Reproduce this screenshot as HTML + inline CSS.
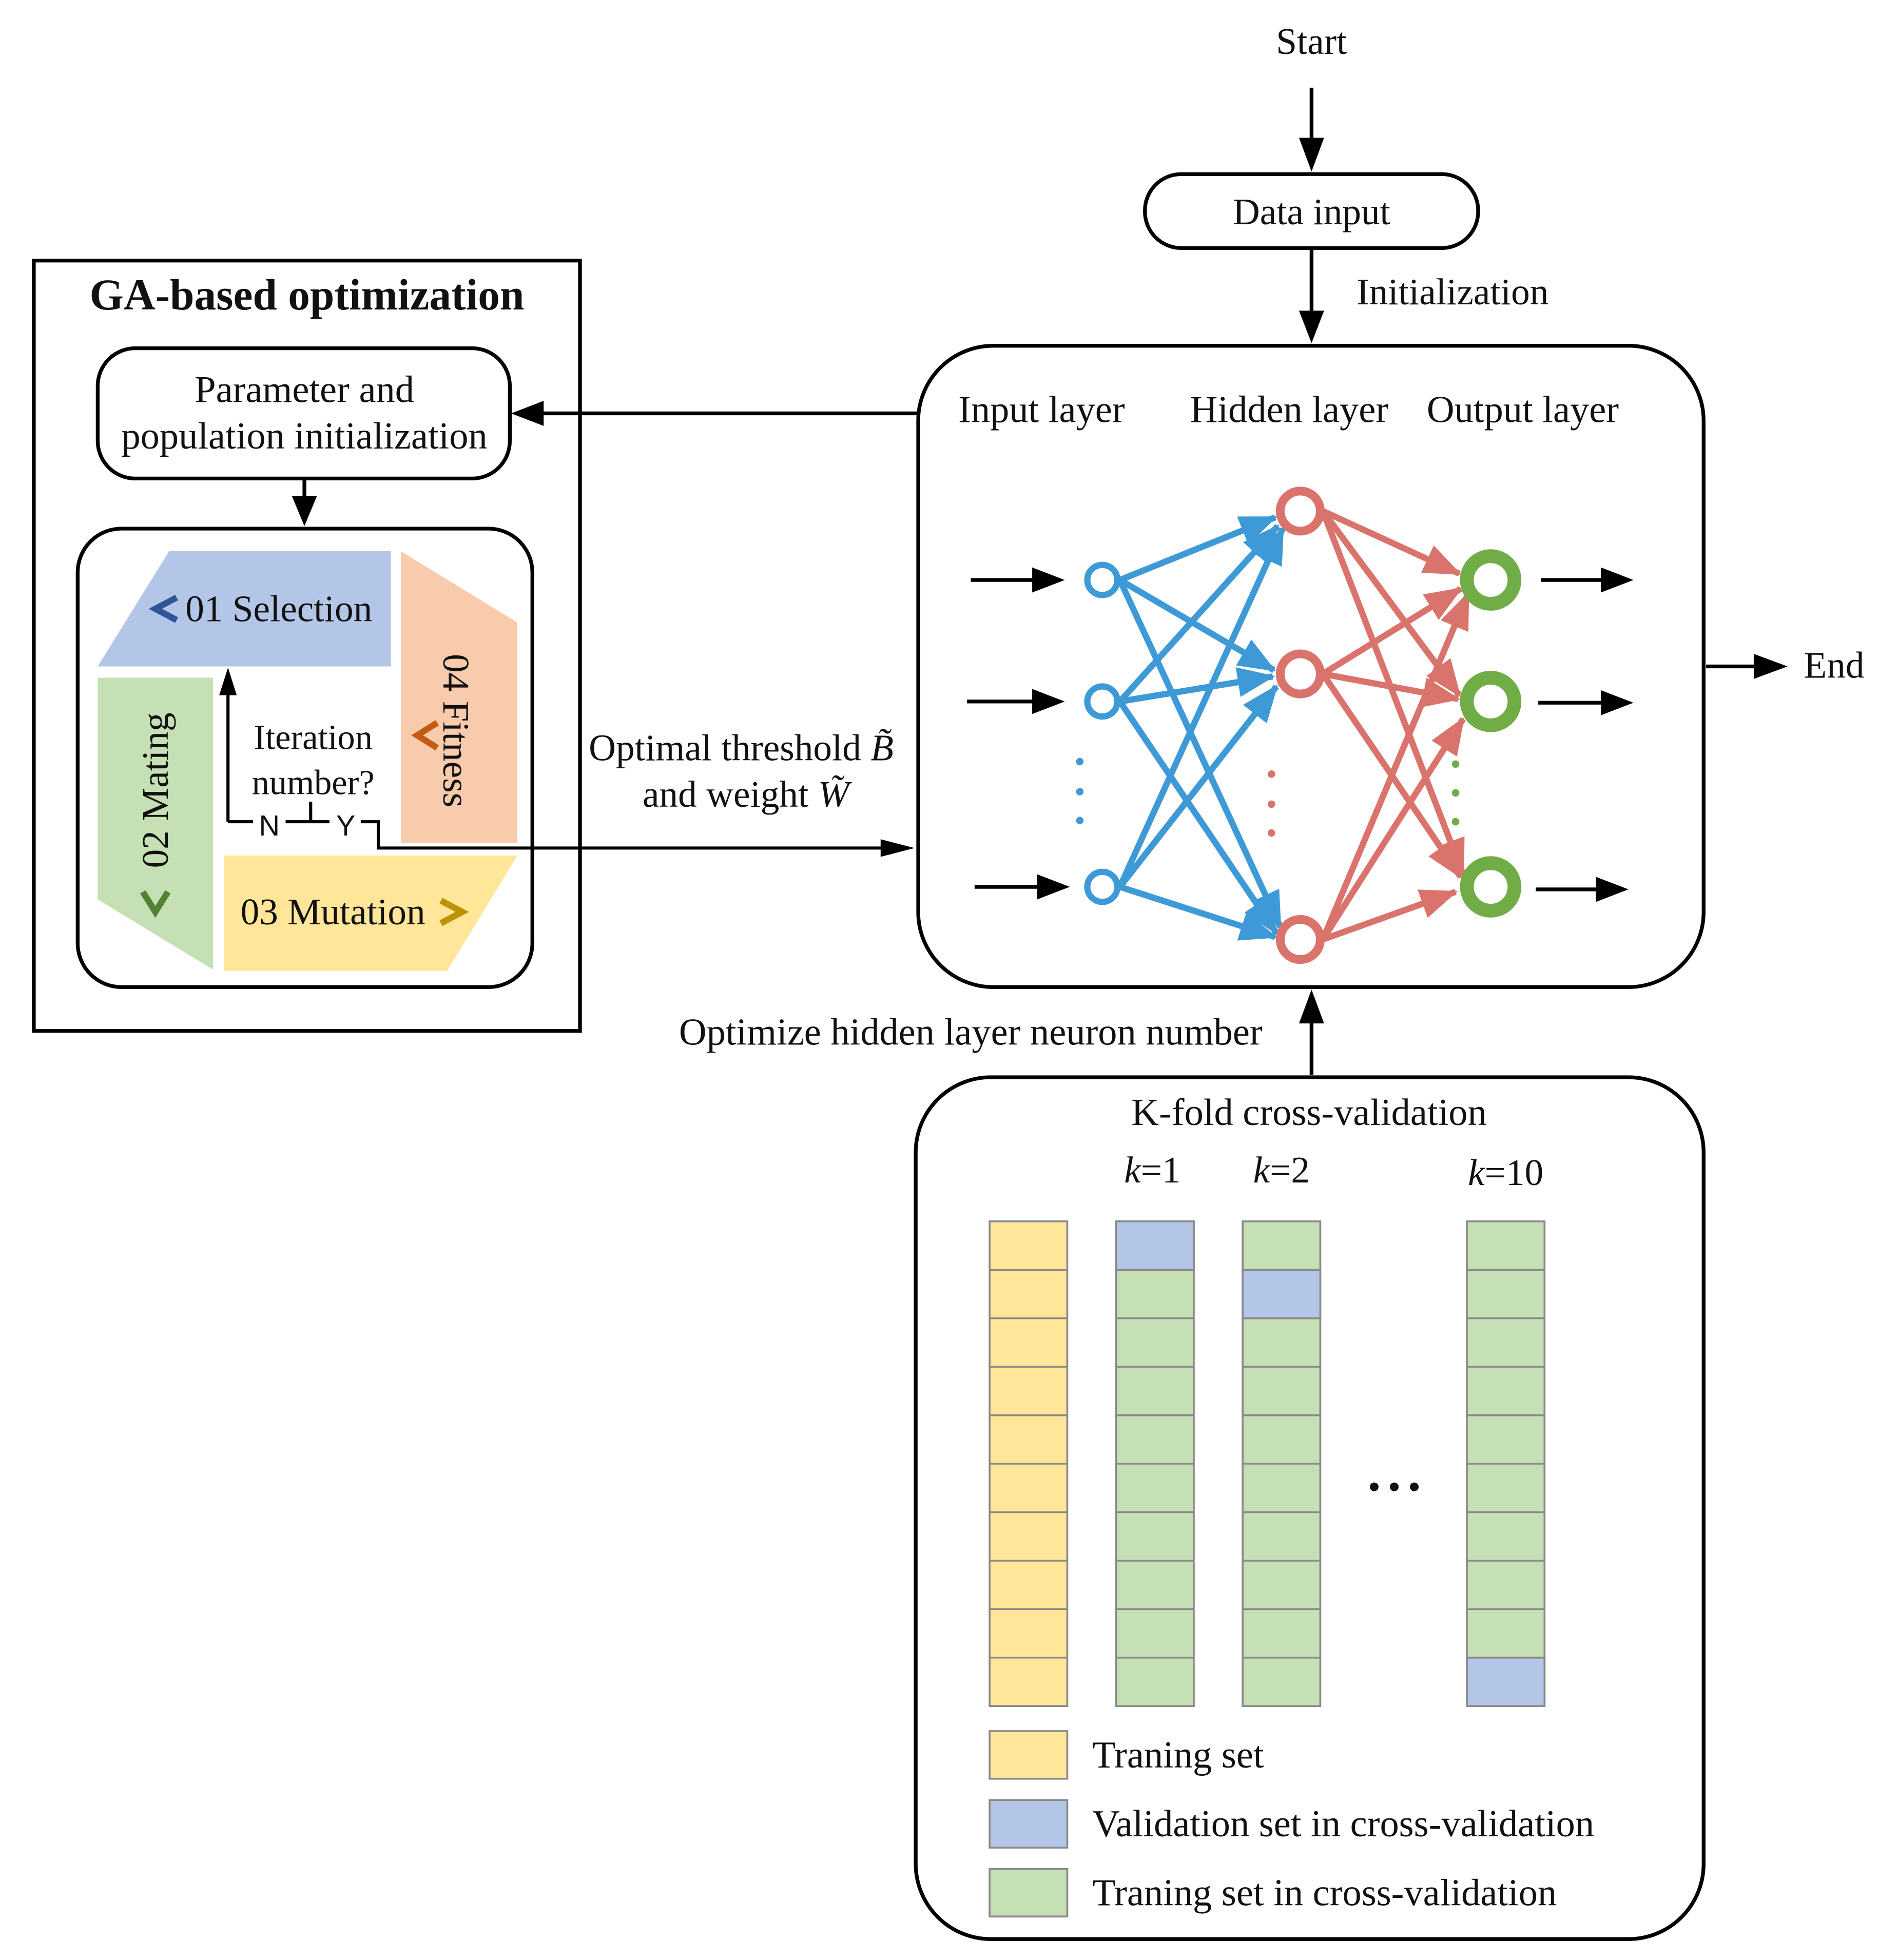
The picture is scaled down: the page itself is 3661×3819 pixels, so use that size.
<!DOCTYPE html>
<html><head><meta charset="utf-8"><style>html,body{margin:0;padding:0;background:#fff}svg{display:block}text{font-family:"Liberation Serif",serif;fill:#111}</style></head><body>
<svg width="3661" height="3819" viewBox="0 0 1500 1564.7" xmlns="http://www.w3.org/2000/svg">
<defs>
<marker id="ab" markerWidth="30" markerHeight="24" refX="28" refY="12" orient="auto" markerUnits="userSpaceOnUse"><path d="M0,0L30,12L0,24z" fill="#3e9ad6"/></marker>
<marker id="ar" markerWidth="30" markerHeight="24" refX="28" refY="12" orient="auto" markerUnits="userSpaceOnUse"><path d="M0,0L30,12L0,24z" fill="#d9736c"/></marker>
</defs>
<g stroke="#000" stroke-width="3" fill="none">
<path d="M1047 70V112" /><path d="M1037 110L1047 137L1057 110z" fill="#000" stroke="none"/>
<rect x="914" y="139" width="266" height="59" rx="29"/>
<path d="M1047 198V250"/><path d="M1037 248L1047 274L1057 248z" fill="#000" stroke="none"/>
<rect x="733" y="276" width="627" height="512" rx="60"/>
<path d="M733 330H432"/><path d="M434 320L408 330L434 340z" fill="#000" stroke="none"/>
<path d="M1362 532H1402"/><path d="M1400 522L1427 532L1400 542z" fill="#000" stroke="none"/>
<rect x="27" y="208" width="436" height="615"/>
<rect x="78" y="278" width="329" height="104" rx="30"/>
<path d="M243 382V398"/><path d="M233 396L243 420L253 396z" fill="#000" stroke="none"/>
<rect x="62" y="422" width="363" height="366" rx="35"/>
<path d="M1047 858V815"/><path d="M1037 817L1047 790L1057 817z" fill="#000" stroke="none"/>
<rect x="731" y="860" width="629" height="688" rx="60"/>
</g>
<polygon points="78,532 135,440 312,440 312,532" fill="#b4c6e7"/>
<polygon points="320,440 413,497 413,673 320,673" fill="#f8cbad"/>
<polygon points="78,541 170,541 170,774 78,718" fill="#c5e0b4"/>
<polygon points="179,683 413,683 357,775 179,775" fill="#ffe699"/>
<path d="M141,477L124,486L141,495" stroke="#2f5597" stroke-width="5" fill="none"/>
<path d="M349,577L333,587L349,597" stroke="#c55a11" stroke-width="5" fill="none"/>
<path d="M114,712L124,728L134,712" stroke="#538135" stroke-width="5" fill="none"/>
<path d="M352,719L369,728L352,737" stroke="#bf9000" stroke-width="5" fill="none"/>
<text x="148" y="496" font-size="30">01 Selection</text>
<text x="192" y="738" font-size="30">03 Mutation</text>
<text transform="translate(134,693) rotate(-90)" font-size="30">02 Mating</text>
<text transform="translate(354,522) rotate(90)" font-size="30">04 Fitness</text>
<text x="250" y="598" font-size="28" text-anchor="middle">Iteration</text>
<text x="250" y="634" font-size="28" text-anchor="middle">number?</text>
<g stroke="#000" stroke-width="2.5" fill="none">
<path d="M182 656V552"/><path d="M182 656H202M228 656H263M288 656H302V677H705"/><path d="M248 656V640"/>
</g>
<path d="M175,555L182,533L189,555z" fill="#000"/>
<path d="M703,670L730,677L703,684z" fill="#000"/>
<text x="215" y="667" font-size="23" text-anchor="middle" style="font-family:'Liberation Sans',sans-serif">N</text>
<text x="276" y="667" font-size="23" text-anchor="middle" style="font-family:'Liberation Sans',sans-serif">Y</text>
<text x="1047" y="43" font-size="30" text-anchor="middle">Start</text>
<text x="1047" y="179" font-size="30" text-anchor="middle">Data input</text>
<text x="1083" y="243" font-size="30">Initialization</text>
<text x="245" y="247" font-size="35" font-weight="bold" text-anchor="middle">GA-based optimization</text>
<text x="243" y="321" font-size="30.5" text-anchor="middle">Parameter and</text>
<text x="243" y="358" font-size="30.5" text-anchor="middle">population initialization</text>
<text x="470" y="607" font-size="30">Optimal threshold <tspan font-style="italic">B̃</tspan></text>
<text x="513" y="644" font-size="30">and weight <tspan font-style="italic">W̃</tspan></text>
<text x="1440" y="541" font-size="30">End</text>
<text x="765" y="337" font-size="30.5">Input layer</text>
<text x="950" y="337" font-size="30.5">Hidden layer</text>
<text x="1139" y="337" font-size="30.5">Output layer</text>
<text x="542" y="834" font-size="30.5">Optimize  hidden layer neuron number</text>
<text x="1045" y="898" font-size="30.5" text-anchor="middle">K-fold cross-validation</text>
<text x="920" y="944" font-size="30" text-anchor="middle"><tspan font-style="italic">k</tspan>=1</text>
<text x="1023" y="944" font-size="30" text-anchor="middle"><tspan font-style="italic">k</tspan>=2</text>
<text x="1202" y="946" font-size="30" text-anchor="middle"><tspan font-style="italic">k</tspan>=10</text>
<g fill="#111"><circle cx="1097" cy="1187" r="3.5"/><circle cx="1113" cy="1187" r="3.5"/><circle cx="1129" cy="1187" r="3.5"/></g>
<g stroke="#000" stroke-width="3">
<path d="M775 463H826M772 560H826M778 708H830M1230 463H1280M1228 561H1280M1226 710H1276"/>
</g>
<g fill="#000"><path d="M824,453L850,463L824,473z"/><path d="M824,550L850,560L824,570z"/><path d="M828,698L854,708L828,718z"/><path d="M1278,453L1304,463L1278,473z"/><path d="M1278,551L1304,561L1278,571z"/><path d="M1274,700L1300,710L1274,720z"/></g>
<g stroke="#3e9ad6" stroke-width="5" fill="none">
<line x1="894" y1="463" x2="1018" y2="413" marker-end="url(#ab)"/>
<line x1="894" y1="463" x2="1017" y2="535" marker-end="url(#ab)"/>
<line x1="894" y1="463" x2="1022" y2="740" marker-end="url(#ab)"/>
<line x1="894" y1="560" x2="1020" y2="420" marker-end="url(#ab)"/>
<line x1="894" y1="560" x2="1016" y2="540" marker-end="url(#ab)"/>
<line x1="894" y1="560" x2="1019" y2="745" marker-end="url(#ab)"/>
<line x1="894" y1="708" x2="1024" y2="422" marker-end="url(#ab)"/>
<line x1="894" y1="708" x2="1019" y2="548" marker-end="url(#ab)"/>
<line x1="894" y1="708" x2="1018" y2="748" marker-end="url(#ab)"/>
</g>
<g stroke="#d9736c" stroke-width="5" fill="none">
<line x1="1056" y1="408" x2="1165" y2="458" marker-end="url(#ar)"/>
<line x1="1056" y1="408" x2="1165" y2="555" marker-end="url(#ar)"/>
<line x1="1056" y1="408" x2="1168" y2="698" marker-end="url(#ar)"/>
<line x1="1056" y1="538" x2="1166" y2="470" marker-end="url(#ar)"/>
<line x1="1056" y1="538" x2="1164" y2="558" marker-end="url(#ar)"/>
<line x1="1056" y1="538" x2="1166" y2="700" marker-end="url(#ar)"/>
<line x1="1056" y1="750" x2="1172" y2="474" marker-end="url(#ar)"/>
<line x1="1056" y1="750" x2="1168" y2="574" marker-end="url(#ar)"/>
<line x1="1056" y1="750" x2="1162" y2="712" marker-end="url(#ar)"/>
</g>
<g fill="#fff">
<circle cx="880" cy="463" r="12" stroke="#3e9ad6" stroke-width="5"/>
<circle cx="880" cy="560" r="12" stroke="#3e9ad6" stroke-width="5"/>
<circle cx="880" cy="708" r="12" stroke="#3e9ad6" stroke-width="5"/>
<circle cx="1038" cy="408" r="16" stroke="#d9736c" stroke-width="7"/>
<circle cx="1038" cy="538" r="16" stroke="#d9736c" stroke-width="7"/>
<circle cx="1038" cy="750" r="16" stroke="#d9736c" stroke-width="7"/>
<circle cx="1190" cy="463" r="19" stroke="#70ad47" stroke-width="11"/>
<circle cx="1190" cy="560" r="19" stroke="#70ad47" stroke-width="11"/>
<circle cx="1190" cy="708" r="19" stroke="#70ad47" stroke-width="11"/>
</g>
<g fill="#3e9ad6"><circle cx="862" cy="608" r="3"/><circle cx="862" cy="632" r="3"/><circle cx="862" cy="655" r="3"/></g>
<g fill="#d9736c"><circle cx="1015" cy="618" r="3"/><circle cx="1015" cy="642" r="3"/><circle cx="1015" cy="665" r="3"/></g>
<g fill="#70ad47"><circle cx="1162" cy="610" r="3"/><circle cx="1162" cy="633" r="3"/><circle cx="1162" cy="656" r="3"/></g>
<g stroke="#8a8a8a" stroke-width="1.5">
<rect x="790" y="975" width="62" height="387" fill="#ffe699"/>
<rect x="891" y="975" width="62" height="387" fill="#c5e0b4"/>
<rect x="992" y="975" width="62" height="387" fill="#c5e0b4"/>
<rect x="1171" y="975" width="62" height="387" fill="#c5e0b4"/>
<rect x="891" y="975" width="62" height="38.7" fill="#b4c6e7"/>
<rect x="992" y="1013.7" width="62" height="38.7" fill="#b4c6e7"/>
<rect x="1171" y="1323.3" width="62" height="38.7" fill="#b4c6e7"/>
<path d="M790 1013.7h62M790 1052.4h62M790 1091.1h62M790 1129.8h62M790 1168.5h62M790 1207.2h62M790 1245.9h62M790 1284.6h62M790 1323.3h62"/>
<path d="M891 1013.7h62M891 1052.4h62M891 1091.1h62M891 1129.8h62M891 1168.5h62M891 1207.2h62M891 1245.9h62M891 1284.6h62M891 1323.3h62"/>
<path d="M992 1013.7h62M992 1052.4h62M992 1091.1h62M992 1129.8h62M992 1168.5h62M992 1207.2h62M992 1245.9h62M992 1284.6h62M992 1323.3h62"/>
<path d="M1171 1013.7h62M1171 1052.4h62M1171 1091.1h62M1171 1129.8h62M1171 1168.5h62M1171 1207.2h62M1171 1245.9h62M1171 1284.6h62M1171 1323.3h62"/>
<rect x="790" y="1382" width="62" height="38" fill="#ffe699"/>
<rect x="790" y="1437" width="62" height="38" fill="#b4c6e7"/>
<rect x="790" y="1492" width="62" height="38" fill="#c5e0b4"/>
</g>
<text x="872" y="1411" font-size="30.5">Traning set</text>
<text x="872" y="1466" font-size="30.5">Validation set in cross-validation</text>
<text x="872" y="1521" font-size="30.5">Traning set in cross-validation</text>
</svg>
</body></html>
